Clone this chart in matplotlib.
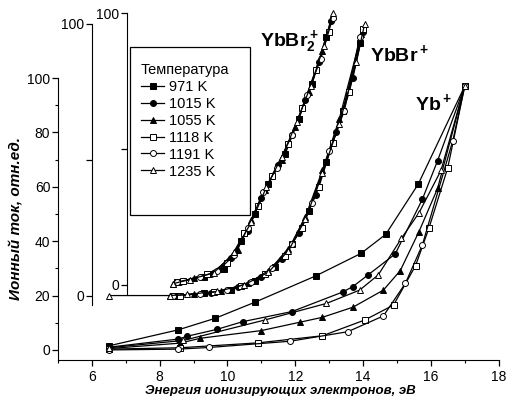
import matplotlib
matplotlib.use("Agg")
import matplotlib.pyplot as plt
from matplotlib.patches import Rectangle

plt.rcParams['font.family'] = ['Liberation Sans', 'DejaVu Sans']
plt.rcParams['mathtext.fontset'] = 'custom'
plt.rcParams['mathtext.bf'] = 'Liberation Sans:bold'
plt.rcParams['mathtext.rm'] = 'Liberation Sans'

temps = ["971 K", "1015 K", "1055 K", "1118 K", "1191 K", "1235 K"]
markers = ["s", "o", "^", "s", "o", "^"]
filled = [True, True, True, False, False, False]

# Yb+ (main axis)
yb_x = [
    [6.5, 8.55, 9.63, 10.8, 12.6, 13.94, 14.67, 15.63, 17.0],
    [6.5, 8.55, 8.8, 9.7, 10.45, 11.9, 13.4, 13.7, 14.15, 14.95, 15.75, 16.2, 17.0],
    [6.5, 8.6, 9.2, 10.99, 12.14, 12.8, 13.7, 14.6, 15.1, 15.65, 16.2, 17.0],
    [6.5, 8.6, 10.9, 12.8, 14.05, 14.9, 15.55, 15.95, 16.5, 17.0],
    [6.5, 8.55, 9.45, 11.85, 13.55, 14.6, 15.25, 15.75, 16.65, 17.0],
    [6.5, 8.7, 11.1, 12.92, 13.9, 14.45, 15.13, 15.65, 16.3, 17.0],
]
yb_y = [
    [1.5, 7.4, 11.6, 17.5, 27.2, 35.5, 42.5, 61, 97],
    [1, 4, 5, 7.6, 10.4, 14.1, 21.3, 23.3, 27.6, 35.3, 55.4, 69.6, 97],
    [0.5, 2.5, 4.3, 7.1, 10.2, 12, 15.7, 22, 29.2, 43.5, 59.4, 97],
    [0.3, 0.8, 2.6, 5.2, 11, 16.5, 31, 45, 67, 97],
    [0, 0.3, 0.9, 3.2, 6.7, 12.5, 24.5, 38.6, 77, 97],
    [0.8, 3.5, 11, 17.1, 22, 27.6, 41, 50.4, 66, 97],
]

# YbBr+ (own axis, zero at 20)
ybbr_x = [
    [8.4, 9.3, 10.1, 10.8, 11.4, 11.9, 12.4, 12.9, 13.4, 13.9],
    [8.5, 9.5, 10.3, 11.0, 11.6, 12.1, 12.6, 13.2, 13.7, 14.0],
    [8.3, 9.0, 9.8, 10.6, 11.2, 11.8, 12.3, 12.8, 13.3, 13.95],
    [8.6, 9.6, 10.4, 11.1, 11.7, 12.2, 12.7, 13.1, 13.6, 14.0],
    [8.4, 9.2, 10.0, 10.7, 11.3, 11.9, 12.5, 13.0, 13.45, 13.9],
    [6.5, 8.3, 8.8, 9.7, 10.5, 11.2, 11.8, 12.3, 12.8, 13.3, 13.8, 14.05],
]
ybbr_y = [
    [0, 0.8, 2.2, 5.5, 10.5, 19, 31, 49, 68, 93],
    [0, 1, 3, 7, 13.5, 23, 37, 60, 80, 97],
    [0, 0.5, 1.5, 4.5, 9, 17, 29, 46, 65, 96],
    [0, 1.2, 3.5, 7.8, 14.5, 25, 40, 56, 75, 98],
    [0, 0.6, 2, 5, 10, 19, 34, 53, 68, 95],
    [0, 0, 0.4, 1.5, 4, 8.5, 16.5, 28, 45, 63, 86, 100],
]

# YbBr2+ (own axis, starting at 7 eV)
ybbr2_x = [
    [8.5, 9.3, 9.9, 10.4, 10.8, 11.2, 11.7, 12.1, 12.5, 12.9],
    [8.6, 9.5, 10.1, 10.6, 11.0, 11.5, 11.9, 12.3, 12.7, 13.05],
    [8.4, 9.0, 9.8, 10.3, 10.7, 11.1, 11.6, 12.0, 12.4, 12.8, 13.1],
    [8.7, 9.4, 10.0, 10.5, 10.9, 11.3, 11.8, 12.2, 12.6, 13.0],
    [8.5, 9.2, 9.7, 10.2, 10.6, 11.05, 11.45, 11.9, 12.35, 12.75, 13.1],
    [8.4, 8.9, 9.6, 10.2, 10.7, 11.15, 11.6, 12.05, 12.45, 12.85, 13.1],
]
ybbr2_y = [
    [1, 3, 6, 16, 26, 37, 48, 61, 74, 91],
    [1, 4, 10, 20, 32, 44, 55, 68, 82, 97],
    [0.5, 2.5, 6, 13, 24, 35, 46, 58, 71, 86, 99],
    [1.5, 4, 8, 19, 29, 40, 52, 65, 79, 93],
    [1, 3, 5, 11, 21, 34, 43, 55, 70, 83, 98],
    [0.5, 2, 4.5, 12, 23, 36, 47, 60, 73, 88, 100],
]

W, H = 512, 396
fig = plt.figure(figsize=(W / 100, H / 100), dpi=100)
ax = fig.add_axes([58 / W, 1 - 360 / H, 444 / W, 352.7 / H])
ax.set_xlim(5, 18.1)
ax.set_ylim(-3.7, 126)
ax.spines['top'].set_visible(False)
ax.spines['right'].set_visible(False)
ax.spines['left'].set_bounds(-3.7, 100)
ax.spines['bottom'].set_bounds(5, 18)
ax.set_xticks([6, 8, 10, 12, 14, 16, 18])
ax.set_xticks(range(5, 19), minor=True)
ax.set_yticks([0, 20, 40, 60, 80, 100])
ax.set_yticks(range(10, 100, 20), minor=True)
ax.tick_params(labelsize=10, length=4, width=0.9)
ax.tick_params(axis='x', pad=3)
ax.tick_params(axis='y', pad=1.5)
ax.tick_params(which='minor', length=2.5, width=0.8)


def side_axis(x0, y0):
    a = ax.inset_axes([x0, y0 - 3.5, 18.1 - x0, 103.5], transform=ax.transData)
    a.set_xlim(x0, 18.1)
    a.set_ylim(-3.5, 100)
    a.patch.set_visible(False)
    for s in ['top', 'right', 'bottom']:
        a.spines[s].set_visible(False)
    a.xaxis.set_visible(False)
    a.set_yticks([0, 50, 100])
    a.set_yticklabels(['0', '', '100'])
    a.tick_params(labelsize=10, length=4, width=0.9, pad=1.5)
    return a


ax2 = side_axis(6.0, 20.0)
ax3 = side_axis(7.03, 23.9)


def draw(a, xs, ys):
    lines = []
    for i in range(len(temps)):
        ln, = a.plot(xs[i], ys[i], color='black', lw=0.9, marker=markers[i],
                     ms=4.3, mew=0.7, mec='black',
                     mfc='black' if filled[i] else 'white', clip_on=False)
        lines.append(ln)
    return lines


handles = draw(ax, yb_x, yb_y)
draw(ax2, ybbr_x, ybbr_y)
draw(ax3, ybbr2_x, ybbr2_y)

ax.text(10.96, 111.8, r'$\mathbf{YbBr_2^+}$', fontsize=14)
ax.text(14.2, 106.3, r'$\mathbf{YbBr^+}$', fontsize=14)
ax.text(15.53, 88.2, r'$\mathbf{Yb^+}$', fontsize=14)

ax.set_xlabel("Энергия ионизирующих электронов, эВ", fontsize=9.5,
              fontweight='bold', fontstyle='italic', labelpad=1)
ax.set_ylabel("Ионный ток, отн.ед.", fontsize=11,
              fontweight='bold', fontstyle='italic')
ax.yaxis.set_label_coords(-0.078, 0.40)

fig.add_artist(Rectangle((130 / W, 1 - 215 / H), 120 / W, 168 / H,
                         transform=fig.transFigure, fill=False,
                         lw=0.9, ec='black'))
fig.legend(handles, temps, title="Температура", loc='upper left',
           bbox_to_anchor=(141 / W, 1 - 63 / H), frameon=False,
           fontsize=10.5, title_fontsize=10.5, borderpad=0,
           borderaxespad=0, handlelength=1.6, handletextpad=0.3,
           labelspacing=0.2, alignment='left')

fig.savefig("out.png", dpi=100)
